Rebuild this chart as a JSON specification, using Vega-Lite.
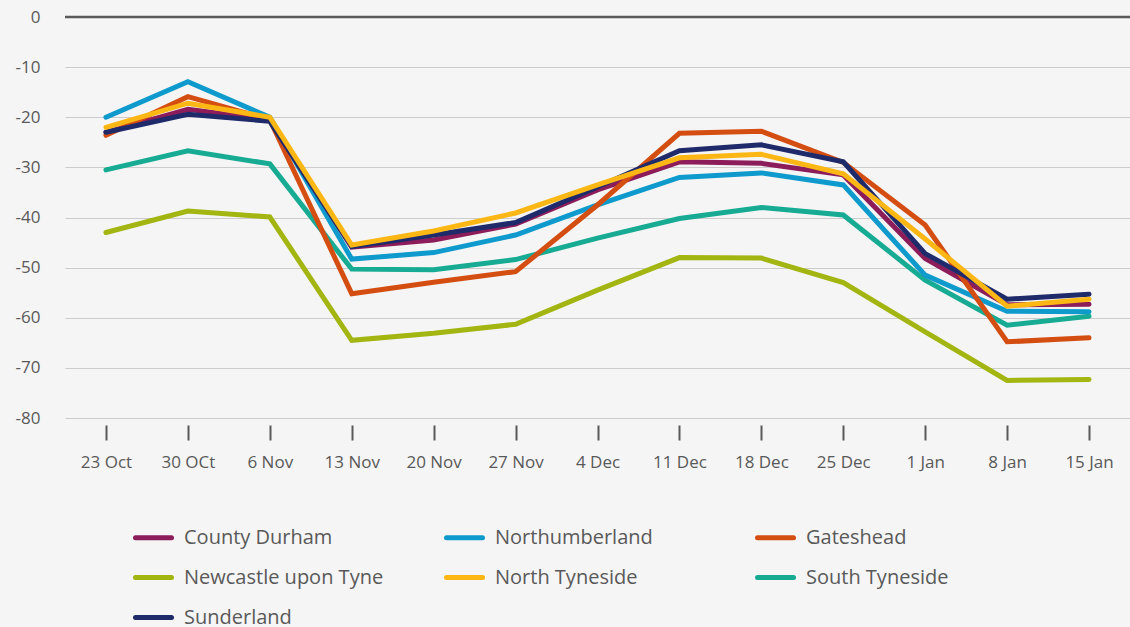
{
  "$schema": "https://vega.github.io/schema/vega-lite/v6.json",
  "width": 1065,
  "height": 401,
  "autosize": {"type": "none"},
  "padding": {"left": 65, "top": 17, "right": 0, "bottom": 209},
  "background": "#f5f5f5",
  "config": {
    "view": {"stroke": null},
    "font": "Open Sans",
    "axis": {"labelFont": "Open Sans", "labelColor": "#595959", "labelFontSize": 17, "title": null}
  },
  "datasets": {
    "series": [
      {"area": "Newcastle upon Tyne", "date": "23 Oct", "value": -43},
      {"area": "Newcastle upon Tyne", "date": "30 OCt", "value": -38.7},
      {"area": "Newcastle upon Tyne", "date": "6 Nov", "value": -39.9},
      {"area": "Newcastle upon Tyne", "date": "13 Nov", "value": -64.5},
      {"area": "Newcastle upon Tyne", "date": "20 Nov", "value": -63.1},
      {"area": "Newcastle upon Tyne", "date": "27 Nov", "value": -61.3},
      {"area": "Newcastle upon Tyne", "date": "4 Dec", "value": -54.5},
      {"area": "Newcastle upon Tyne", "date": "11 Dec", "value": -48},
      {"area": "Newcastle upon Tyne", "date": "18 Dec", "value": -48.1},
      {"area": "Newcastle upon Tyne", "date": "25 Dec", "value": -53},
      {"area": "Newcastle upon Tyne", "date": "1 Jan", "value": -62.8},
      {"area": "Newcastle upon Tyne", "date": "8 Jan", "value": -72.5},
      {"area": "Newcastle upon Tyne", "date": "15 Jan", "value": -72.3},
      {"area": "South Tyneside", "date": "23 Oct", "value": -30.5},
      {"area": "South Tyneside", "date": "30 OCt", "value": -26.7},
      {"area": "South Tyneside", "date": "6 Nov", "value": -29.3},
      {"area": "South Tyneside", "date": "13 Nov", "value": -50.3},
      {"area": "South Tyneside", "date": "20 Nov", "value": -50.4},
      {"area": "South Tyneside", "date": "27 Nov", "value": -48.4},
      {"area": "South Tyneside", "date": "4 Dec", "value": -44.1},
      {"area": "South Tyneside", "date": "11 Dec", "value": -40.2},
      {"area": "South Tyneside", "date": "18 Dec", "value": -38},
      {"area": "South Tyneside", "date": "25 Dec", "value": -39.5},
      {"area": "South Tyneside", "date": "1 Jan", "value": -52.5},
      {"area": "South Tyneside", "date": "8 Jan", "value": -61.5},
      {"area": "South Tyneside", "date": "15 Jan", "value": -59.7},
      {"area": "Northumberland", "date": "23 Oct", "value": -20},
      {"area": "Northumberland", "date": "30 OCt", "value": -12.9},
      {"area": "Northumberland", "date": "6 Nov", "value": -20},
      {"area": "Northumberland", "date": "13 Nov", "value": -48.3},
      {"area": "Northumberland", "date": "20 Nov", "value": -47},
      {"area": "Northumberland", "date": "27 Nov", "value": -43.5},
      {"area": "Northumberland", "date": "4 Dec", "value": -37.5},
      {"area": "Northumberland", "date": "11 Dec", "value": -32},
      {"area": "Northumberland", "date": "18 Dec", "value": -31.1},
      {"area": "Northumberland", "date": "25 Dec", "value": -33.5},
      {"area": "Northumberland", "date": "1 Jan", "value": -51.5},
      {"area": "Northumberland", "date": "8 Jan", "value": -58.7},
      {"area": "Northumberland", "date": "15 Jan", "value": -58.8},
      {"area": "County Durham", "date": "23 Oct", "value": -23},
      {"area": "County Durham", "date": "30 OCt", "value": -18.4},
      {"area": "County Durham", "date": "6 Nov", "value": -20.5},
      {"area": "County Durham", "date": "13 Nov", "value": -45.9},
      {"area": "County Durham", "date": "20 Nov", "value": -44.5},
      {"area": "County Durham", "date": "27 Nov", "value": -41.3},
      {"area": "County Durham", "date": "4 Dec", "value": -34.5},
      {"area": "County Durham", "date": "11 Dec", "value": -28.9},
      {"area": "County Durham", "date": "18 Dec", "value": -29.2},
      {"area": "County Durham", "date": "25 Dec", "value": -31.5},
      {"area": "County Durham", "date": "1 Jan", "value": -48.2},
      {"area": "County Durham", "date": "8 Jan", "value": -57.4},
      {"area": "County Durham", "date": "15 Jan", "value": -57.3},
      {"area": "Gateshead", "date": "23 Oct", "value": -23.6},
      {"area": "Gateshead", "date": "30 OCt", "value": -15.9},
      {"area": "Gateshead", "date": "6 Nov", "value": -20.5},
      {"area": "Gateshead", "date": "13 Nov", "value": -55.2},
      {"area": "Gateshead", "date": "20 Nov", "value": -52.9},
      {"area": "Gateshead", "date": "27 Nov", "value": -50.8},
      {"area": "Gateshead", "date": "4 Dec", "value": -37.5},
      {"area": "Gateshead", "date": "11 Dec", "value": -23.2},
      {"area": "Gateshead", "date": "18 Dec", "value": -22.8},
      {"area": "Gateshead", "date": "25 Dec", "value": -29},
      {"area": "Gateshead", "date": "1 Jan", "value": -41.5},
      {"area": "Gateshead", "date": "8 Jan", "value": -64.8},
      {"area": "Gateshead", "date": "15 Jan", "value": -64},
      {"area": "Sunderland", "date": "23 Oct", "value": -23},
      {"area": "Sunderland", "date": "30 OCt", "value": -19.4},
      {"area": "Sunderland", "date": "6 Nov", "value": -20.8},
      {"area": "Sunderland", "date": "13 Nov", "value": -45.8},
      {"area": "Sunderland", "date": "20 Nov", "value": -43.5},
      {"area": "Sunderland", "date": "27 Nov", "value": -41},
      {"area": "Sunderland", "date": "4 Dec", "value": -33.9},
      {"area": "Sunderland", "date": "11 Dec", "value": -26.7},
      {"area": "Sunderland", "date": "18 Dec", "value": -25.5},
      {"area": "Sunderland", "date": "25 Dec", "value": -28.9},
      {"area": "Sunderland", "date": "1 Jan", "value": -47.2},
      {"area": "Sunderland", "date": "8 Jan", "value": -56.3},
      {"area": "Sunderland", "date": "15 Jan", "value": -55.3},
      {"area": "North Tyneside", "date": "23 Oct", "value": -22},
      {"area": "North Tyneside", "date": "30 OCt", "value": -17.2},
      {"area": "North Tyneside", "date": "6 Nov", "value": -20},
      {"area": "North Tyneside", "date": "13 Nov", "value": -45.5},
      {"area": "North Tyneside", "date": "20 Nov", "value": -42.7},
      {"area": "North Tyneside", "date": "27 Nov", "value": -39.1},
      {"area": "North Tyneside", "date": "4 Dec", "value": -33.5},
      {"area": "North Tyneside", "date": "11 Dec", "value": -28.1},
      {"area": "North Tyneside", "date": "18 Dec", "value": -27.4},
      {"area": "North Tyneside", "date": "25 Dec", "value": -31.3},
      {"area": "North Tyneside", "date": "1 Jan", "value": -44.3},
      {"area": "North Tyneside", "date": "8 Jan", "value": -57.7},
      {"area": "North Tyneside", "date": "15 Jan", "value": -56.3}
    ],
    "zero": [{"value": 0}]
  },
  "layer": [
    {
      "data": {"name": "series"},
      "mark": {"type": "line", "strokeWidth": 5, "strokeCap": "round", "strokeJoin": "miter"},
      "encoding": {
        "x": {
          "field": "date", "type": "ordinal",
          "sort": ["23 Oct", "30 OCt", "6 Nov", "13 Nov", "20 Nov", "27 Nov", "4 Dec", "11 Dec", "18 Dec", "25 Dec", "1 Jan", "8 Jan", "15 Jan"],
          "scale": {"type": "point", "padding": 0.5},
          "axis": {"labelAngle": 0, "domain": false, "ticks": true, "tickSize": 15, "tickWidth": 2, "tickColor": "#595959", "offset": 7, "labelPadding": 14, "grid": false}
        },
        "y": {
          "field": "value", "type": "quantitative",
          "scale": {"domain": [-80, 0], "nice": false, "zero": false},
          "axis": {"values": [-80, -70, -60, -50, -40, -30, -20, -10, 0], "labelExpr": "'' + datum.value", "domain": false, "ticks": false, "grid": true, "gridColor": "#cccccc", "gridWidth": 1, "labelPadding": 25}
        },
        "color": {
          "field": "area", "type": "nominal",
          "scale": {
            "domain": ["County Durham", "Northumberland", "Gateshead", "Newcastle upon Tyne", "North Tyneside", "South Tyneside", "Sunderland"],
            "range": ["#8c1d5a", "#0e9acd", "#d44d11", "#a3b511", "#fcb715", "#18ab93", "#1f2a6b"]
          },
          "legend": {
            "title": null,
            "orient": "none",
            "legendX": 68,
            "legendY": 500,
            "direction": "horizontal",
            "columns": 3,
            "gridAlign": "all",
            "columnPadding": 52,
            "rowPadding": 9,
            "padding": 0,
            "symbolType": "stroke",
            "symbolSize": 1296,
            "symbolStrokeWidth": 5,
            "labelFont": "Open Sans",
            "labelFontSize": 20,
            "labelColor": "#595959",
            "labelOffset": 10,
            "labelLimit": 400,
            "encode": {"symbols": {"update": {"strokeCap": {"value": "round"}}}}
          }
        },
        "order": {"value": 0}
      }
    },
    {
      "data": {"name": "zero"},
      "mark": {"type": "rule", "color": "#595959", "strokeWidth": 2.5},
      "encoding": {"y": {"field": "value", "type": "quantitative"}}
    }
  ]
}
